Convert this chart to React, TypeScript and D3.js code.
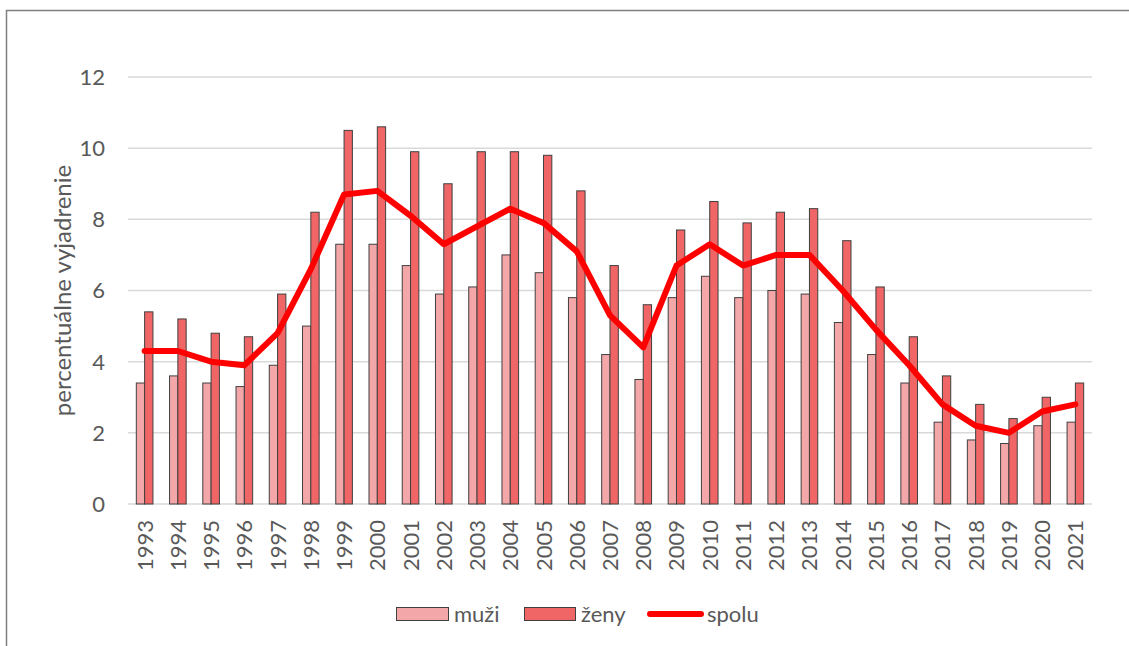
import React from "react";
import * as d3 from "d3";

const years = ["1993","1994","1995","1996","1997","1998","1999","2000","2001","2002","2003","2004","2005","2006","2007","2008","2009","2010","2011","2012","2013","2014","2015","2016","2017","2018","2019","2020","2021"];
const muzi = [3.4,3.6,3.4,3.3,3.9,5.0,7.3,7.3,6.7,5.9,6.1,7.0,6.5,5.8,4.2,3.5,5.8,6.4,5.8,6.0,5.9,5.1,4.2,3.4,2.3,1.8,1.7,2.2,2.3];
const zeny = [5.4,5.2,4.8,4.7,5.9,8.2,10.5,10.6,9.9,9.0,9.9,9.9,9.8,8.8,6.7,5.6,7.7,8.5,7.9,8.2,8.3,7.4,6.1,4.7,3.6,2.8,2.4,3.0,3.4];
const spolu = [4.3,4.3,4.0,3.9,4.8,6.6,8.7,8.8,8.1,7.3,7.8,8.3,7.9,7.1,5.3,4.4,6.7,7.3,6.7,7.0,7.0,6.0,4.9,3.9,2.8,2.2,2.0,2.6,2.8];
const yTicks = [0,2,4,6,8,10,12];
const seriesNames = ["muži","ženy","spolu"];
const yTitle = "percentuálne vyjadrenie";

const W = 1129, H = 646;
const plot = { left: 128, right: 1092, top: 77, bottom: 504 };
const FONT = "Lato, 'Open Sans', sans-serif";
const TXT = "#595959";
const C_MUZI = "#F4A7A9";
const C_ZENY = "#F06666";
const C_LINE = "#FF0000";
const STROKE = "#404040";

export default function App() {
  const x = d3.scaleBand<string>().domain(years).range([plot.left, plot.right]).paddingInner(0).paddingOuter(0);
  const y = d3.scaleLinear().domain([0, 12]).range([plot.bottom, plot.top]);
  const bw = x.bandwidth() / 4;
  const line = d3.line<number>()
    .x((_, i) => (x(years[i]) as number) + x.bandwidth() / 2)
    .y((d) => y(d));

  return (
    <svg width={W} height={H} style={{ position: "absolute", left: 0, top: 0, background: "#fff" }} fontFamily={FONT}>
      <rect x={0} y={0} width={W} height={H} fill="#fff" />
      <rect x={6.5} y={10.5} width={W + 20} height={H + 20} fill="none" stroke="#7f7f7f" strokeWidth={1.5} />
      {yTicks.map((t) => (
        <g key={t}>
          <line x1={plot.left} x2={plot.right} y1={y(t)} y2={y(t)} stroke="#d9d9d9" strokeWidth={1.5} />
          <text x={105} y={y(t)} dy="0.36em" textAnchor="end" fontSize={22} fill={TXT}>{t}</text>
        </g>
      ))}
      <text transform={`translate(71,${(plot.top + plot.bottom) / 2 + 0}) rotate(-90)`} textAnchor="middle" fontSize={24} fill={TXT}>{yTitle}</text>
      {years.map((yr, i) => {
        const x0 = (x(yr) as number) + x.bandwidth() / 2;
        return (
          <g key={yr}>
            <rect x={x0 - bw} y={y(muzi[i])} width={bw} height={y(0) - y(muzi[i])} fill={C_MUZI} stroke={STROKE} strokeWidth={1} />
            <rect x={x0} y={y(zeny[i])} width={bw} height={y(0) - y(zeny[i])} fill={C_ZENY} stroke={STROKE} strokeWidth={1} />
            <text transform={`translate(${x0 + 8},${plot.bottom + 16}) rotate(-90)`} textAnchor="end" fontSize={22} fill={TXT}>{yr}</text>
          </g>
        );
      })}
      <path d={line(spolu) || ""} fill="none" stroke={C_LINE} strokeWidth={6} strokeLinejoin="round" strokeLinecap="round" />
      <g>
        <rect x={396.5} y={607.5} width={52} height={13} fill={C_MUZI} stroke={STROKE} strokeWidth={1} />
        <text x={454} y={622} fontSize={22} fill={TXT}>{seriesNames[0]}</text>
        <rect x={524.5} y={607.5} width={51} height={13} fill={C_ZENY} stroke={STROKE} strokeWidth={1} />
        <text x={581} y={622} fontSize={22} fill={TXT}>{seriesNames[1]}</text>
        <line x1={650} x2={701} y1={614} y2={614} stroke={C_LINE} strokeWidth={6} strokeLinecap="round" />
        <text x={707} y={622} fontSize={22} fill={TXT}>{seriesNames[2]}</text>
      </g>
    </svg>
  );
}
